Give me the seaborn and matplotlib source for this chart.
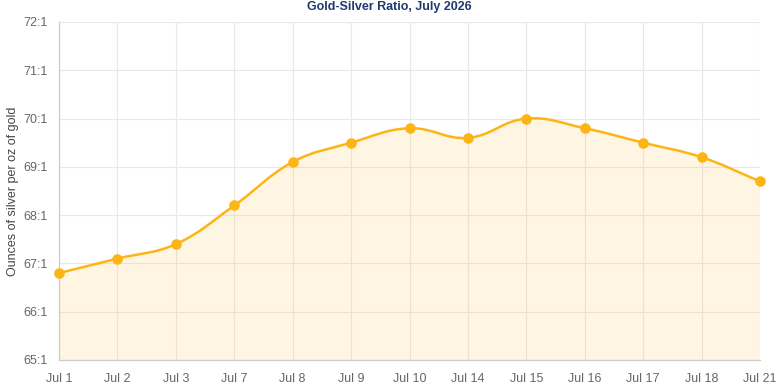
import numpy as np
import matplotlib
matplotlib.use("Agg")
import matplotlib.pyplot as plt
import seaborn as sns
import pandas as pd
from matplotlib.path import Path
from matplotlib.patches import PathPatch

# Data
dates = ["Jul 1", "Jul 2", "Jul 3", "Jul 7", "Jul 8", "Jul 9", "Jul 10",
         "Jul 14", "Jul 15", "Jul 16", "Jul 17", "Jul 18", "Jul 21"]
ratio = [66.8, 67.1, 67.4, 68.2, 69.1, 69.5, 69.8,
         69.6, 70.0, 69.8, 69.5, 69.2, 68.7]
y_ticks = [65, 66, 67, 68, 69, 70, 71, 72]

LINE = "#FDB515"
GRID = "#E8E8E8"
TEXT = "#666666"

sns.set_theme(style="white")
plt.rcParams["font.family"] = ["Liberation Sans", "DejaVu Sans"]

df = pd.DataFrame({"date": dates, "ratio": ratio, "pos": np.arange(len(dates))})

fig = plt.figure(figsize=(7.78, 3.89), dpi=100)
ax = fig.add_axes([59 / 778, 29 / 389, 701 / 778, 338 / 389])
ax.set_xlim(0, len(dates) - 1)
ax.set_ylim(65, 72)


def spline_path(xs, ys, tension=0.4):
    # chart.js style spline: control points computed in pixel space
    pts = ax.transData.transform(np.column_stack([xs, ys]))
    n = len(pts)
    cp_prev, cp_next = [], []
    for i in range(n):
        prev = pts[max(i - 1, 0)]
        cur = pts[i]
        nxt = pts[min(i + 1, n - 1)]
        d01 = np.hypot(*(cur - prev))
        d12 = np.hypot(*(nxt - cur))
        tot = d01 + d12 if d01 + d12 > 0 else 1
        fa = tension * d01 / tot
        fb = tension * d12 / tot
        cp_prev.append(cur - fa * (nxt - prev))
        cp_next.append(cur + fb * (nxt - prev))
    verts = [pts[0]]
    codes = [Path.MOVETO]
    for i in range(n - 1):
        verts += [cp_next[i], cp_prev[i + 1], pts[i + 1]]
        codes += [Path.CURVE4] * 3
    inv = ax.transData.inverted()
    return inv.transform(np.array(verts)), codes


verts, codes = spline_path(df["pos"].values, df["ratio"].values)

# filled area under the curve (translucent so the grid shows through)
fill_verts = np.vstack([verts, [[df["pos"].iloc[-1], 65], [df["pos"].iloc[0], 65], verts[0]]])
fill_codes = codes + [Path.LINETO, Path.LINETO, Path.CLOSEPOLY]
ax.add_patch(PathPatch(Path(fill_verts, fill_codes), facecolor=LINE, alpha=0.12,
                       edgecolor="none", zorder=1))
ax.add_patch(PathPatch(Path(verts, codes), facecolor="none", edgecolor=LINE, lw=1.8, zorder=3))

sns.scatterplot(data=df, x="pos", y="ratio", ax=ax, color=LINE, s=58,
                edgecolor=LINE, linewidth=0, zorder=4, clip_on=False)

ax.set_xticks(df["pos"])
ax.set_xticklabels(dates)
ax.set_yticks(y_ticks)
ax.set_yticklabels([f"{v}:1" for v in y_ticks])
ax.grid(True, color=GRID, lw=0.8, zorder=0)
ax.set_axisbelow(True)
ax.tick_params(axis="both", colors=TEXT, labelsize=9, length=6, width=0.8)
ax.tick_params(axis="x", color=GRID, pad=3)
ax.tick_params(axis="y", color=GRID, pad=2)
for s in ["top", "right"]:
    ax.spines[s].set_visible(False)
for s in ["left", "bottom"]:
    ax.spines[s].set_color("#CCCCCC")
    ax.spines[s].set_linewidth(0.9)

ax.set_xlabel("")
ax.set_ylabel("Ounces of silver per oz of gold", color="#444444", fontsize=9)
ax.yaxis.set_label_coords(-0.057, 0.5)
fig.text(389 / 778, 1 - 7 / 389, "Gold-Silver Ratio, July 2026", ha="center", va="center",
         color="#1F3A6E", fontsize=9, fontweight="bold")

fig.savefig("out.png", dpi=100)
